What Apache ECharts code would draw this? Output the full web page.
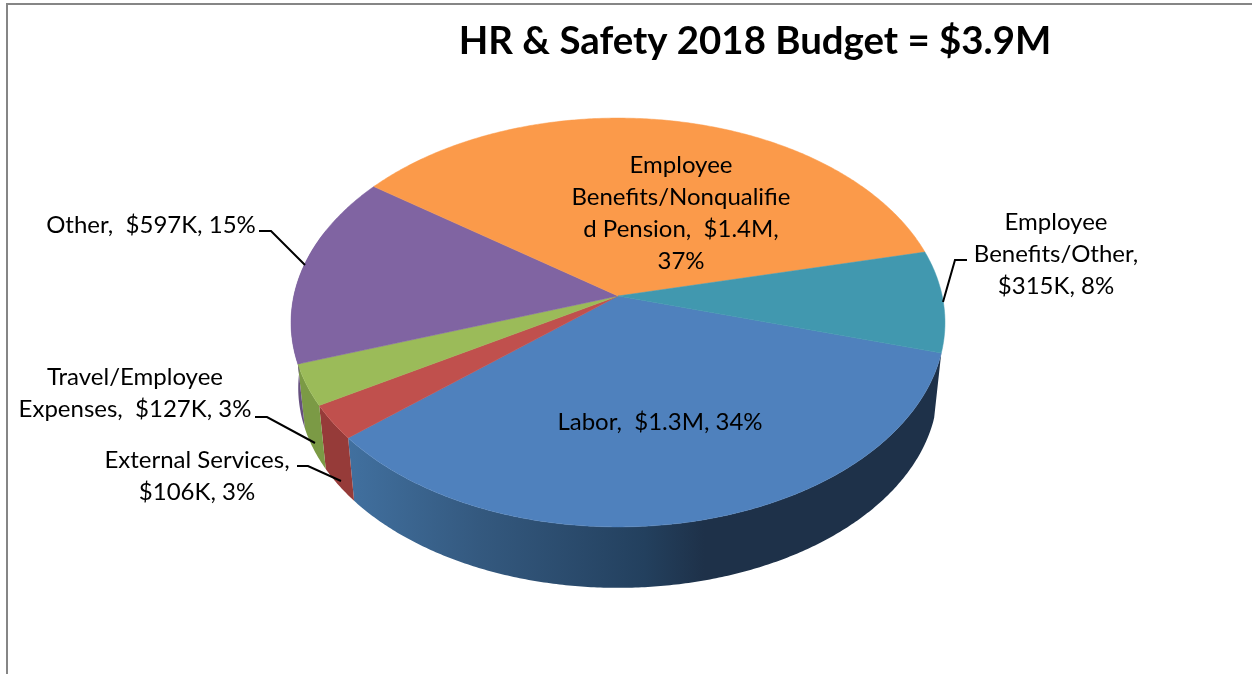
<!DOCTYPE html>
<html>
<head>
<meta charset="utf-8">
<style>html,body{margin:0;padding:0;background:#fff}#c{width:1252px;height:674px}</style>
<script src="https://cdn.jsdelivr.net/npm/echarts@6/dist/echarts.min.js"></script>
</head>
<body>
<div id="c"></div>
<script>
// ---- data ----
const titleText = 'HR & Safety 2018 Budget = $3.9M';
const categories = ['Labor', 'External Services', 'Travel/Employee Expenses', 'Other', 'Employee Benefits/Nonqualified Pension', 'Employee Benefits/Other'];
const valuesK = [1349, 106, 127, 597, 1429, 315];
const amountText = ['$1.3M', '$106K', '$127K', '$597K', '$1.4M', '$315K'];
const percentText = ['34%', '3%', '3%', '15%', '37%', '8%'];
const labelLines = [
  ['Labor,  $1.3M, 34%'],
  ['External Services,', '$106K, 3%'],
  ['Travel/Employee', 'Expenses,  $127K, 3%'],
  ['Other,  $597K, 15%'],
  ['Employee', 'Benefits/Nonqualifie', 'd Pension,  $1.4M,', '37%'],
  ['Employee', 'Benefits/Other,', '$315K, 8%']
];

// ---- styles and layout ----
const topColors = ['#4f81bd', '#c0504d', '#9bbb59', '#8064a2', '#fb9a4a', '#4198af'];
const wallColors = [null, '#963b39', '#7b9a45', '#66507f', '#c67a3a', '#31788c'];
const blueWall = new echarts.graphic.LinearGradient(0, 0, 1, 0, [
  {offset: 0, color: '#41709f'},
  {offset: 0.22, color: '#34597f'},
  {offset: 0.5, color: '#23405e'},
  {offset: 0.6, color: '#1e3149'},
  {offset: 1, color: '#1e3149'}
]);
const FONT = 'Lato, "Open Sans", sans-serif';
const FONT_SIZE = 24, LINE_H = 32;
// Perspective disc: apex, radii, foreshortening, extrusion
const geo = {cx: 618, cy: 296, R: 324.2, S: 201, k: 0.1296, drop: 66, shrink: 0.978};
const START_ANGLE = -15.9;               // degrees, sweep runs clockwise
const WALL_FROM = -15.9, WALL_TO = -200; // visible front part of the rim
// centre x and centre y of the first line for each label
const labelAnchor = [[660, 422], [197, 460], [135, 377], [151, 225], [681, 165], [1056, 222]];
const leaders = [
  null,
  [[297, 466], [308, 466], [341, 481]],
  [[255, 417], [267, 417], [315, 443]],
  [[259, 231], [271, 231], [305, 265]],
  null,
  [[967, 260], [955, 260], [943, 302]]
];

const total = valuesK.reduce((a, b) => a + b, 0);
const spans = [];
valuesK.reduce((acc, v) => {
  const next = acc - v / total * 360;
  spans.push([acc, next]);
  return next;
}, START_ANGLE);

function topPoint(deg) {
  const t = deg * Math.PI / 180, u = Math.cos(t), v = Math.sin(t), w = 1 / (1 + geo.k * v);
  return [geo.cx + geo.R * u * w, geo.cy - geo.S * v * w];
}
function bottomPoint(deg) {
  const p = topPoint(deg);
  return [geo.cx + geo.shrink * (p[0] - geo.cx), geo.cy + geo.drop + geo.shrink * (p[1] - geo.cy)];
}
function arc(a, b, fn) {
  const n = Math.max(2, Math.ceil(Math.abs(b - a) * 2)), pts = [];
  for (let i = 0; i <= n; i++) pts.push(fn(a + (b - a) * i / n));
  return pts;
}

function renderWall(params) {
  const i = params.dataIndex, s = spans[i];
  const a = Math.min(s[0], WALL_FROM), b = Math.max(s[1], WALL_TO);
  if (a <= b) return {type: 'group', children: []};
  const pts = arc(a, b, topPoint).concat(arc(b, a, bottomPoint));
  return {
    type: 'polygon',
    shape: {points: pts},
    style: {fill: i === 0 ? blueWall : wallColors[i]}
  };
}

function renderTop(params) {
  const i = params.dataIndex, s = spans[i];
  const children = [{
    type: 'polygon',
    shape: {points: [[geo.cx, geo.cy]].concat(arc(s[0], s[1], topPoint))},
    style: {fill: topColors[i], stroke: topColors[i], lineWidth: 0.5}
  }];
  if (leaders[i]) {
    children.push({
      type: 'polyline',
      shape: {points: leaders[i]},
      style: {fill: null, stroke: '#000', lineWidth: 2}
    });
  }
  labelLines[i].forEach((line, j) => {
    children.push({
      type: 'text',
      style: {
        text: line,
        x: labelAnchor[i][0],
        y: labelAnchor[i][1] + j * LINE_H,
        align: 'center',
        verticalAlign: 'middle',
        fill: '#000',
        font: FONT_SIZE + 'px ' + FONT
      }
    });
  });
  return {type: 'group', children};
}

const seriesData = categories.map((name, i) => ({name, value: valuesK[i]}));

const chart = echarts.init(document.getElementById('c'), null, {renderer: 'canvas'});
chart.setOption({
  animation: false,
  backgroundColor: '#ffffff',
  title: {
    text: titleText,
    left: 750,
    top: 18,
    textAlign: 'center',
    textStyle: {fontFamily: FONT, fontWeight: 'bold', fontSize: 38.4, color: '#000'}
  },
  graphic: [{
    type: 'polyline',
    shape: {points: [[7, 674], [7, 4], [1252, 4]]},
    style: {fill: null, stroke: '#868686', lineWidth: 2}
  }],
  series: [
    {type: 'custom', coordinateSystem: 'none', z: 2, data: seriesData, renderItem: renderWall, silent: true},
    {type: 'custom', coordinateSystem: 'none', z: 3, data: seriesData, renderItem: renderTop, silent: true}
  ]
});
</script>
</body>
</html>
